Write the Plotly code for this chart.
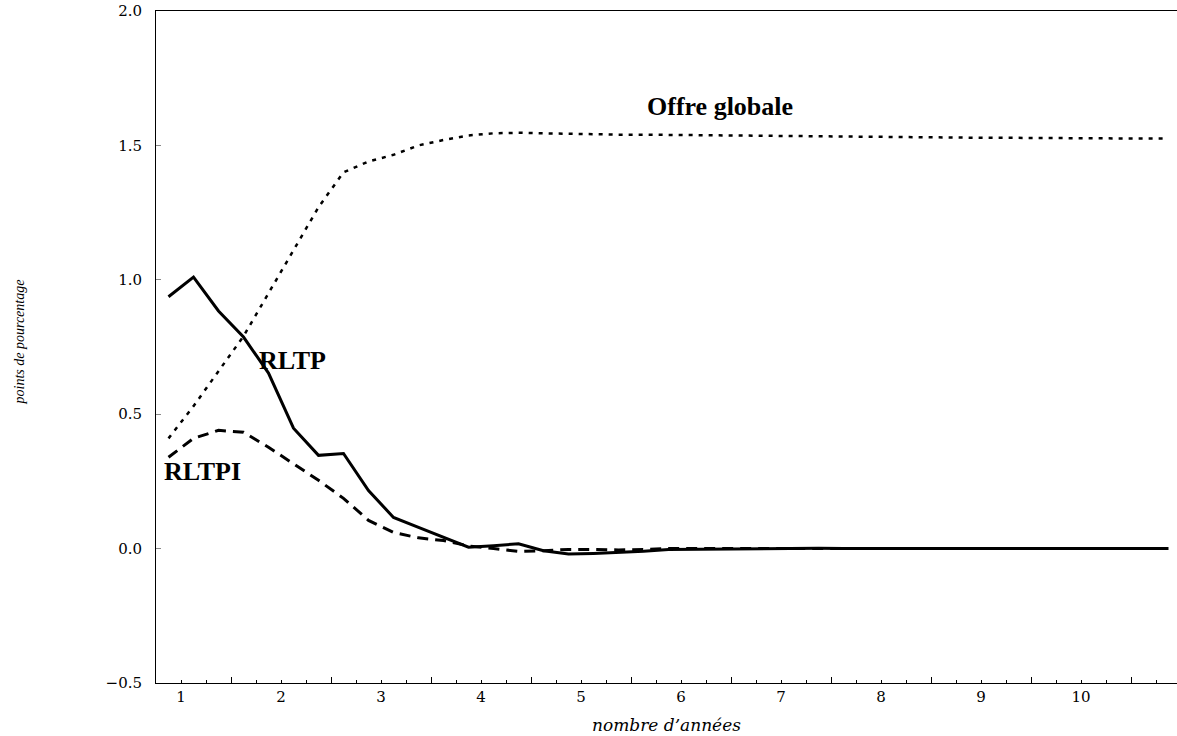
import plotly.graph_objects as go

# quarterly horizon expressed in years (first quarter plotted at 0.875)
quarters = [0.875 + 0.25 * k for k in range(41)]

offre_globale = [0.41, 0.53, 0.66, 0.79, 0.95, 1.11, 1.27, 1.40, 1.44, 1.465,
                 1.50, 1.52, 1.537, 1.545, 1.547, 1.545, 1.543, 1.541, 1.540, 1.540,
                 1.539, 1.538, 1.537, 1.536, 1.535, 1.534, 1.533, 1.532, 1.531, 1.530,
                 1.530, 1.529, 1.529, 1.528, 1.528, 1.527, 1.527, 1.527, 1.526, 1.526,
                 1.526]

rltp = [0.937, 1.01, 0.884, 0.787, 0.653, 0.448, 0.347, 0.354, 0.216, 0.116,
        0.079, 0.042, 0.005, 0.011, 0.018, -0.008, -0.02, -0.018, -0.015, -0.01,
        -0.003, -0.002, -0.003, -0.001, 0.0, 0.0, 0.001, 0.0, 0.0, 0.0,
        0.0, 0.0, 0.0, 0.0, 0.0, 0.0, 0.0, 0.0, 0.0, 0.0, 0.0]

rltpi = [0.34, 0.41, 0.44, 0.433, 0.377, 0.317, 0.254, 0.187, 0.105, 0.06,
         0.04, 0.03, 0.01, 0.0, -0.01, -0.008, -0.003, -0.003, -0.005, -0.003,
         0.0, 0.0, 0.0, 0.0, 0.0, 0.0, 0.0, 0.0, 0.0, 0.0,
         0.0, 0.0, 0.0, 0.0, 0.0, 0.0, 0.0, 0.0, 0.0, 0.0, 0.0]

x_labels = [1, 2, 3, 4, 5, 6, 7, 8, 9, 10]
x_major = [1.5, 2.5, 3.5, 4.5, 5.5, 6.5, 7.5, 8.5, 9.5, 10.5]
y_ticks = [-0.5, 0.0, 0.5, 1.0, 1.5, 2.0]

x_range = [0.75, 10.96]
y_range = [-0.5, 2.0]

fig = go.Figure()
fig.add_trace(go.Scatter(x=quarters, y=offre_globale, mode="lines", name="Offre globale",
                         line=dict(color="black", width=2.5, dash="4px,6px")))
fig.add_trace(go.Scatter(x=quarters, y=rltp, mode="lines", name="RLTP",
                         line=dict(color="black", width=3)))
fig.add_trace(go.Scatter(x=quarters, y=rltpi, mode="lines", name="RLTPI",
                         line=dict(color="black", width=3, dash="11px,7px")))
# invisible trace carrying the secondary (half-year) tick axis
fig.add_trace(go.Scatter(x=[x_range[0]], y=[0], xaxis="x2", mode="markers",
                         marker=dict(opacity=0), showlegend=False, hoverinfo="skip"))

serif = "DejaVu Serif"
bold_font = dict(family="Liberation Serif", size=26, color="black", weight="bold")

fig.update_layout(
    width=1177, height=736,
    margin=dict(l=156, r=0, t=11, b=53),
    paper_bgcolor="white", plot_bgcolor="white",
    showlegend=False,
    hovermode=False,
    xaxis=dict(
        range=x_range, showgrid=False, zeroline=False,
        showline=True, linecolor="black", linewidth=1, mirror=True,
        tickmode="array", tickvals=x_labels, ticktext=[str(v) for v in x_labels],
        ticks="inside", ticklen=3, tickcolor="black", tickwidth=1,
        minor=dict(ticks="inside", ticklen=3, tick0=0.75, dtick=0.25,
                   tickcolor="black", tickwidth=1, showgrid=False),
        tickfont=dict(family=serif, size=15, color="black"),
        ticklabelstandoff=0,
        title=dict(text="nombre d’années", standoff=14,
                   font=dict(family=serif, size=17, color="black", style="italic")),
    ),
    xaxis2=dict(
        range=x_range, overlaying="x", anchor="y", side="bottom",
        showgrid=False, zeroline=False, showline=False, mirror=False,
        tickmode="array", tickvals=x_major, showticklabels=False,
        ticks="inside", ticklen=6, tickcolor="black", tickwidth=1,
    ),
    yaxis=dict(
        range=y_range, showgrid=False, zeroline=False,
        showline=True, linecolor="black", linewidth=1, mirror=False,
        tickmode="array", tickvals=y_ticks, tickformat=".1f",
        ticks="inside", ticklen=5, tickcolor="#888888", tickwidth=1,
        tickfont=dict(family=serif, size=15, color="black"),
        ticklabelstandoff=10, ticklabeloverflow="allow",
    ),
    annotations=[
        dict(text="Offre globale", x=6.39, y=1.643, xref="x", yref="y",
             showarrow=False, font=bold_font),
        dict(text="RLTP", x=2.11, y=0.70, xref="x", yref="y",
             showarrow=False, font=bold_font),
        dict(text="RLTPI", x=1.21, y=0.286, xref="x", yref="y",
             showarrow=False, font=bold_font),
        dict(text="points de pourcentage", x=-0.134, y=0.507, xref="paper", yref="paper",
             textangle=-90, showarrow=False, xanchor="center", yanchor="middle",
             font=dict(family="Liberation Serif", size=14, color="black", style="italic")),
    ],
)

# remove the default 8px page margin so the figure fills the window exactly
fig.write_html("out.html", config={"displayModeBar": False},
               post_script="document.body.style.margin='0';")
